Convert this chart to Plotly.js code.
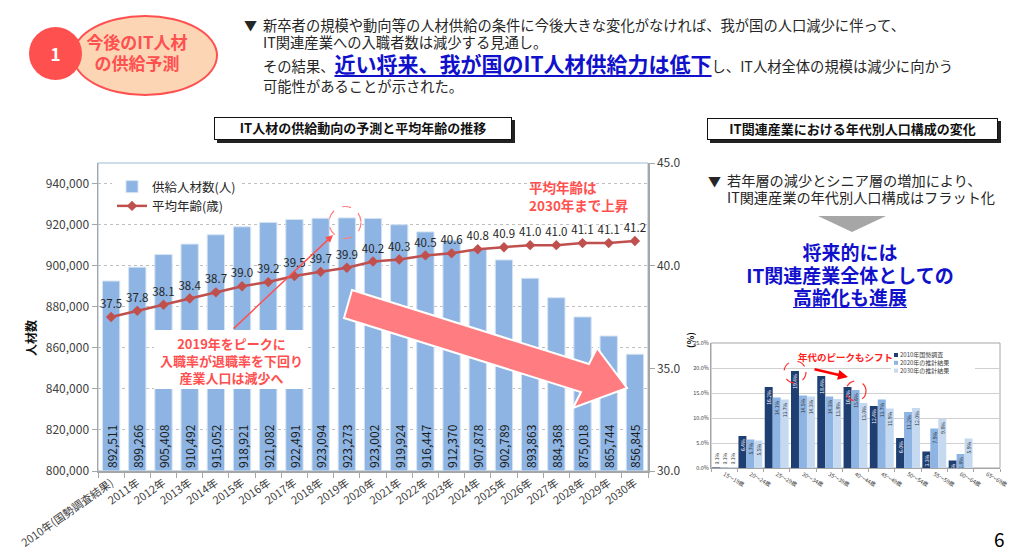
<!DOCTYPE html>
<html><head><meta charset="utf-8">
<script src="https://cdn.plot.ly/plotly-3.0.1.min.js"></script>
<style>
body{margin:0;background:#fff;}
#wrap{position:relative;width:1024px;height:557px;overflow:hidden;font-family:"Noto Sans CJK JP","Noto Sans",sans-serif;color:#262626;}
#chart{position:absolute;left:0;top:0;width:1024px;height:557px;}
.t{position:absolute;white-space:nowrap;}
.box{position:absolute;box-sizing:border-box;border:1.5px solid #111;background:#fff;box-shadow:3px 3px 0 #222;font-weight:bold;font-size:13px;text-align:center;color:#111;white-space:nowrap;}
</style></head><body>
<div id="wrap">
<div id="chart"></div>
<!-- header badge -->
<div style="position:absolute;left:72px;top:15px;width:146px;height:81px;box-sizing:border-box;border:2px solid #FF5050;background:#FCD5B4;border-radius:50%;"></div>
<div style="position:absolute;left:29px;top:27px;width:53px;height:53px;background:#FF5050;border-radius:50%;color:#fff;font-weight:bold;font-size:17px;line-height:53px;text-align:center;">1</div>
<div class="t" style="left:82px;top:31px;width:110px;text-align:center;font-size:17px;line-height:21px;font-weight:bold;color:#FF5050;">今後のIT人材<br>の供給予測</div>
<!-- header text -->
<div class="t" style="left:244px;top:17px;font-size:13px;line-height:16px;">▼</div>
<div class="t" style="left:263px;top:17px;font-size:14.3px;line-height:16px;">新卒者の規模や動向等の人材供給の条件に今後大きな変化がなければ、我が国の人口減少に伴って、</div>
<div class="t" style="left:263px;top:34px;font-size:14.3px;line-height:16px;">IT関連産業への入職者数は減少する見通し。</div>
<div class="t" style="left:263px;top:50px;font-size:14.3px;line-height:26px;">その結果、<span style="font-size:21px;font-weight:bold;color:#1111CC;text-decoration:underline;text-underline-offset:3px;text-decoration-thickness:1.5px;">近い将来、我が国のIT人材供給力は低下</span>し、IT人材全体の規模は減少に向かう</div>
<div class="t" style="left:263px;top:78px;font-size:14.3px;line-height:16px;">可能性があることが示された。</div>
<!-- title boxes -->
<div class="box" style="left:214px;top:117px;width:298px;height:23px;line-height:20px;">IT人材の供給動向の予測と平均年齢の推移</div>
<div class="box" style="left:707px;top:118px;width:291px;height:22px;line-height:19px;">IT関連産業における年代別人口構成の変化</div>
<!-- right side text -->
<div class="t" style="left:708px;top:173px;font-size:13px;line-height:16px;">▼</div>
<div class="t" style="left:727px;top:173px;font-size:14.2px;line-height:15.5px;">若年層の減少とシニア層の増加により、</div>
<div class="t" style="left:727px;top:189.5px;font-size:14.2px;line-height:15.5px;">IT関連産業の年代別人口構成はフラット化</div>
<div style="position:absolute;left:818px;top:216px;width:0;height:0;border-left:34px solid transparent;border-right:34px solid transparent;border-top:16px solid #A6A6A6;"></div>
<div class="t" style="left:720px;top:241px;width:260px;text-align:center;font-size:19px;line-height:22.5px;font-weight:bold;color:#1111CC;">将来的には<br>IT関連産業全体としての<br><span style="text-decoration:underline;text-underline-offset:2px;">高齢化も進展</span></div>
<div class="t" style="left:994px;top:527px;font-size:19px;line-height:24px;color:#000;">6</div>
</div>
<script>
// ---- main chart data ----
const years = ['2010年(国勢調査結果)','2011年','2012年','2013年','2014年','2015年','2016年','2017年','2018年','2019年','2020年','2021年','2022年','2023年','2024年','2025年','2026年','2027年','2028年','2029年','2030年'];
const supply = [892511,899266,905408,910492,915052,918921,921082,922491,923094,923273,923002,919924,916447,912370,907878,902789,893863,884368,875018,865744,856845];
const avgAge = [37.5,37.8,38.1,38.4,38.7,39.0,39.2,39.5,39.7,39.9,40.2,40.3,40.5,40.6,40.8,40.9,41.0,41.0,41.1,41.1,41.2];
const supplyName = '供給人材数(人)';
const ageName = '平均年齢(歳)';
const BASE = 800000;
// ---- age structure data ----
const ageGroups = ['15～19歳','20～24歳','25～29歳','30～34歳','35～39歳','40～44歳','45～49歳','50～54歳','55～59歳','60～64歳','65～69歳'];
const share2010 = [0.1,6.4,16.2,19.4,18.4,16.2,12.4,6.0,3.3,1.5,0.0];
const share2020 = [0.1,5.7,14.1,14.5,14.3,15.6,13.7,11.2,7.9,2.8,0.0];
const share2030 = [0.1,5.5,13.7,14.3,13.8,13.0,11.9,12.0,9.8,5.9,0.0];
const seriesNames = ['2010年国勢調査','2020年の推計結果','2030年の推計結果'];
const seriesColors = ['#1F3F73','#8DB4E2','#C5D9F1'];

const W=1024,H=557;
const px=x=>x/W, py=y=>1-y/H;
const F='"Noto Sans CJK JP","Noto Sans",sans-serif';

const traces=[
 {type:'bar',x:years,y:supply.map(v=>v-BASE),base:BASE,width:0.66,name:supplyName,xaxis:'x',yaxis:'y',
  marker:{color:'#8DB4E2',line:{color:'#D5E3F3',width:1}},
  text:supply.map(v=>v.toLocaleString('en-US')),textposition:'inside',insidetextanchor:'start',textangle:-90,
  textfont:{size:12,color:'#1a1a1a',family:F},constraintext:'none',hoverinfo:'skip'},
 {type:'scatter',x:years,y:avgAge,name:ageName,xaxis:'x',yaxis:'y2',mode:'lines+markers+text',
  line:{color:'#C0504D',width:2.5},marker:{symbol:'diamond',size:8,color:'#C0504D'},
  text:avgAge.map(v=>v.toFixed(1)),textposition:'top center',textfont:{size:11.5,color:'#262626',family:F},hoverinfo:'skip'}
];
[share2010,share2020,share2030].forEach((s,i)=>{
 traces.push({type:'bar',x:ageGroups,y:s,name:seriesNames[i],xaxis:'x3',yaxis:'y3',showlegend:false,
  marker:{color:seriesColors[i]},text:s.map(v=>v.toFixed(1)+'%'),textposition:'auto',textangle:-90,
  insidetextfont:{size:5,color:i===0?'#fff':'#333',family:F},outsidetextfont:{size:5,color:'#333',family:F},
  constraintext:'none',hoverinfo:'skip'});
});

const axLine={showline:true,linecolor:'#A6A6A6',linewidth:1.5,ticks:'outside',tickcolor:'#A6A6A6',automargin:false,fixedrange:true};
const layout={
 width:W,height:H,margin:{l:0,r:0,t:0,b:0},paper_bgcolor:'rgba(0,0,0,0)',plot_bgcolor:'rgba(0,0,0,0)',
 font:{family:F,color:'#262626'},barmode:'group',bargap:0.09,bargroupgap:0,
 showlegend:true,
 legend:{x:px(112),y:py(172),xanchor:'left',yanchor:'top',bgcolor:'#fff',font:{size:12.5,color:'#262626'},traceorder:'normal',tracegroupgap:0},
 xaxis:Object.assign({},axLine,{domain:[px(98),px(648)],anchor:'y',type:'category',range:[-0.5,years.length-0.5],autorange:false,tickangle:-35,ticklen:5,tickson:'boundaries',tickfont:{size:11,color:'#404040'},showgrid:false}),
 yaxis:Object.assign({},axLine,{domain:[1-471/H,1-163/H],anchor:'x',range:[800000,950000],tick0:800000,dtick:20000,tickformat:',d',ticklen:5,
   tickfont:{size:12,color:'#404040'},showgrid:true,gridcolor:'#BFBFBF',griddash:'dot',gridwidth:1,zeroline:false}),
 yaxis2:Object.assign({},axLine,{overlaying:'y',side:'right',anchor:'x',range:[30,45],dtick:5,tickformat:'.1f',ticklen:5,
   tickfont:{size:12,color:'#404040'},showgrid:false,zeroline:false}),
 xaxis3:Object.assign({},axLine,{domain:[px(711),px(1000)],anchor:'y3',type:'category',range:[-0.5,ageGroups.length-0.5],autorange:false,linewidth:1,ticklen:3,tickson:'boundaries',
   tickfont:{size:5.5,color:'#404040'},showgrid:false}),
 yaxis3:Object.assign({},axLine,{domain:[1-468/H,1-343/H],anchor:'x3',range:[0,25],dtick:5,tickformat:'.1f',ticksuffix:'%',linewidth:1,ticks:'',
   tickfont:{size:5.5,color:'#404040'},showgrid:true,gridcolor:'#D0D0D0',gridwidth:1,zeroline:false}),
 shapes:[],annotations:[]
};
const S=layout.shapes, A=layout.annotations;
// plot borders
S.push({type:'rect',xref:'paper',yref:'paper',x0:px(98),x1:px(648),y0:py(471),y1:py(163),line:{color:'#9BBBD9',width:1},layer:'below'});
S.push({type:'rect',xref:'paper',yref:'paper',x0:px(711),x1:px(1000),y0:py(468),y1:py(343),line:{color:'#A6A6A6',width:1},layer:'below'});
// callout box
S.push({type:'rect',xref:'paper',yref:'paper',x0:px(154),x1:px(307),y0:py(389),y1:py(330),fillcolor:'#fff',line:{width:0},layer:'above'});
// big arrow
const arrowPts=[[352,290],[589,364],[597,348],[627,388],[573,408],[581,392],[344,318]];
S.push({type:'path',xref:'paper',yref:'paper',path:'M'+arrowPts.map(p=>px(p[0])+','+py(p[1])).join(' L')+' Z',
  fillcolor:'#FF7C80',line:{color:'#fff',width:2},layer:'above'});
// dashed circles
S.push({type:'circle',xref:'paper',yref:'paper',x0:px(329),x1:px(361),y0:py(238.5),y1:py(206.5),line:{color:'#FF7C80',width:1.2,dash:'dash'},layer:'above'});
S.push({type:'circle',xref:'paper',yref:'paper',x0:px(784),x1:px(806),y0:py(383),y1:py(361),line:{color:'#FF3030',width:1.2,dash:'dash'},layer:'above'});
S.push({type:'circle',xref:'paper',yref:'paper',x0:px(846),x1:px(866),y0:py(401),y1:py(381),line:{color:'#FF3030',width:1.2,dash:'dash'},layer:'above'});
// small legend (one text block + swatches)
const legStep=7.8, legTop=355;
S.push({type:'rect',xref:'paper',yref:'paper',x0:px(891),x1:px(975),y0:py(legTop+2*legStep+5),y1:py(legTop-5),fillcolor:'#fff',line:{width:0},layer:'above'});
seriesNames.forEach((n,i)=>{
 const yc=legTop+i*legStep;
 S.push({type:'rect',xref:'paper',yref:'paper',x0:px(894),x1:px(898),y0:py(yc+2),y1:py(yc-2),fillcolor:seriesColors[i],line:{width:0},layer:'above'});
});
A.push({xref:'paper',yref:'paper',x:px(899),y:py(legTop+legStep),xanchor:'left',yanchor:'middle',align:'left',text:seriesNames.join('<br>'),showarrow:false,borderpad:0,font:{size:6,color:'#404040'}});
// annotations main
A.push({xref:'paper',yref:'paper',x:px(231),y:py(360),xanchor:'center',yanchor:'middle',text:'<b>2019年をピークに<br>入職率が退職率を下回り<br>産業人口は減少へ</b>',showarrow:false,align:'center',font:{size:13,color:'#FF5050'}});
A.push({xref:'paper',yref:'paper',x:px(333),y:py(235),ax:232-333,ay:330-235,text:'',showarrow:true,arrowhead:2,arrowsize:1,arrowwidth:1.5,arrowcolor:'#FF5050',standoff:0,startstandoff:0});
A.push({xref:'paper',yref:'paper',x:px(527),y:py(196),xanchor:'left',yanchor:'middle',align:'left',text:'<b>平均年齢は<br>2030年まで上昇</b>',showarrow:false,font:{size:13.5,color:'#FF5050'}});
A.push({xref:'paper',yref:'paper',x:px(30),y:py(338),xanchor:'center',yanchor:'middle',text:'<b>人材数</b>',textangle:-90,showarrow:false,font:{size:12,color:'#111'}});
// annotations small chart
A.push({xref:'paper',yref:'paper',x:px(845),y:py(357),xanchor:'center',yanchor:'middle',text:'<b>年代のピークもシフト</b>',showarrow:false,font:{size:9.5,color:'#FF2020'}});
A.push({xref:'paper',yref:'paper',x:px(848),y:py(377),ax:813-848,ay:369-377,text:'',showarrow:true,arrowhead:2,arrowsize:0.8,arrowwidth:2.5,arrowcolor:'#FF0000',standoff:0});
A.push({xref:'paper',yref:'paper',x:px(690),y:py(340),xanchor:'center',yanchor:'middle',text:'<b>(％)</b>',textangle:-90,showarrow:false,font:{size:9,color:'#111'}});

Plotly.newPlot('chart',traces,layout,{staticPlot:true,displayModeBar:false});
</script>
</body></html>
